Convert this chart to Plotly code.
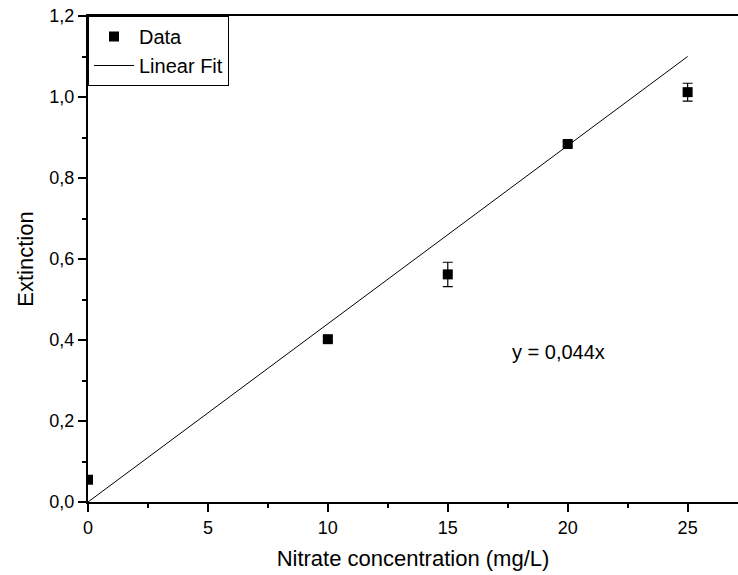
import plotly.graph_objects as go

conc = [0, 10, 15, 20, 25]
ext = [0.055, 0.402, 0.562, 0.884, 1.012]
ext_err = [0.0, 0.006, 0.03, 0.006, 0.022]
slope = 0.044
fit_x = [0, 25]
fit_y = [slope * v for v in fit_x]

font = "Liberation Sans, Arial, sans-serif"

fig = go.Figure()
fig.add_trace(go.Scatter(
    x=fit_x, y=fit_y, mode="lines", name="Linear Fit",
    line=dict(color="black", width=1)))
fig.add_trace(go.Scatter(
    x=conc, y=ext, mode="markers", name="Data",
    marker=dict(symbol="square", size=10, color="black"),
    error_y=dict(type="data", array=ext_err, color="black", thickness=1.2, width=5)))

fig.add_annotation(x=19.6, y=0.37, text="y = 0,044x", showarrow=False,
                   xanchor="center", yanchor="middle",
                   font=dict(size=20, color="black", family=font))

fig.update_layout(
    width=738, height=575,
    margin=dict(l=88, r=0, t=16, b=73),
    plot_bgcolor="white", paper_bgcolor="white",
    separators=",.",
    font=dict(family=font, color="black"),
    showlegend=True,
    legend=dict(x=0, y=1, xanchor="left", yanchor="top", traceorder="reversed",
                bordercolor="black", borderwidth=1, bgcolor="white",
                font=dict(size=20), itemwidth=40, tracegroupgap=0),
    xaxis=dict(range=[0, 27.1], tickvals=[0, 5, 10, 15, 20, 25], ticktext=["0", "5", "10", "15", "20", "25"],
               ticks="outside", ticklen=8, tickwidth=1.5, tickcolor="black",
               minor=dict(dtick=2.5, tick0=0, ticks="outside", ticklen=4, tickwidth=1.5, tickcolor="black", showgrid=False),
               showline=True, linecolor="black", linewidth=2, mirror=True,
               showgrid=False, zeroline=False,
               tickfont=dict(size=18),
               title=dict(text="Nitrate concentration (mg/L)", font=dict(size=22), standoff=14)),
    yaxis=dict(range=[0, 1.2], dtick=0.2, tick0=0, tickformat=".1f",
               ticks="outside", ticklen=8, tickwidth=1.5, tickcolor="black",
               minor=dict(dtick=0.1, tick0=0, ticks="outside", ticklen=4, tickwidth=1.5, tickcolor="black", showgrid=False),
               showline=True, linecolor="black", linewidth=2,
               showgrid=False, zeroline=False,
               tickfont=dict(size=18),
               title=dict(text="Extinction", font=dict(size=22), standoff=10)),
)

fig.write_html("out.html")
